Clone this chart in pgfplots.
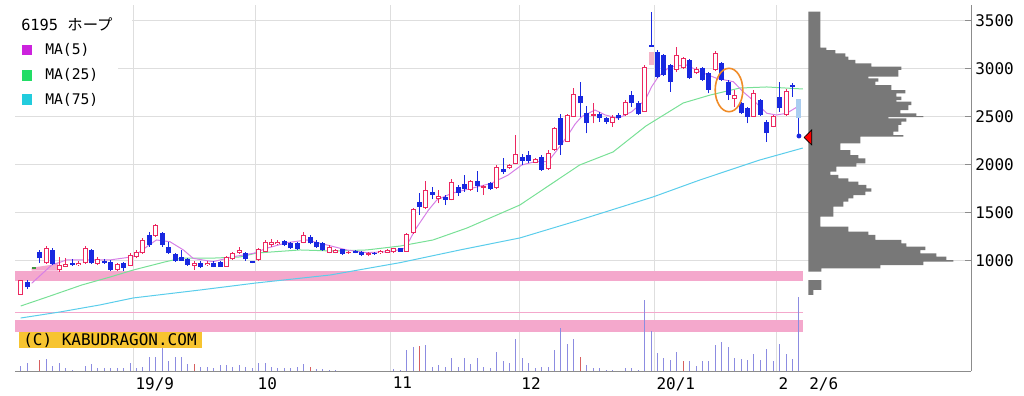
\documentclass[border=0pt]{standalone}
\usepackage{pgfplots}
\pgfplotsset{compat=1.18}
\usepackage{pgfplotstable}
\usepackage{fontspec}
\setmainfont{DejaVu Sans Mono}
\newfontfamily\jp{Noto Sans CJK JP}

\definecolor{cRed}{RGB}{236,40,96}
\definecolor{cBlue}{RGB}{24,40,224}
\definecolor{cGreenC}{RGB}{60,150,60}
\definecolor{cMAf}{RGB}{214,128,230}
\definecolor{cMAtf}{RGB}{120,224,150}
\definecolor{cMAss}{RGB}{90,205,235}
\definecolor{cPink}{RGB}{244,168,204}
\definecolor{cVol}{RGB}{140,140,225}
\definecolor{cVolR}{RGB}{215,95,95}
\definecolor{cProf}{RGB}{120,120,120}
\definecolor{cGrid}{RGB}{222,222,222}
\definecolor{cAxis}{RGB}{140,140,140}
\definecolor{cGold}{RGB}{247,196,48}
\definecolor{cOrange}{RGB}{240,140,40}
\definecolor{cLegM}{RGB}{204,34,221}
\definecolor{cLegG}{RGB}{34,221,102}
\definecolor{cLegC}{RGB}{34,204,221}
\definecolor{cLtPink}{RGB}{245,180,200}
\definecolor{cLtBlue}{RGB}{170,205,240}

% candles: i = trading day index, prices
\pgfplotstableread{
i bot top lo hi inner
0 643 799 643 799 136
4 973 1129 966 1153 136
6 903 955 886 1042 31
7 938 966 935 1028 7
9 952 980 945 997 7
10 973 1136 966 1153 142
12 966 1018 955 1039 31
15 903 966 893 976 42
17 948 1060 945 1080 91
18 1042 1094 1025 1112 31
19 1077 1216 1070 1237 118
21 1258 1372 1247 1382 93
27 948 980 903 997 11
29 955 980 945 997 4
32 938 1042 935 1049 83
33 1015 1077 1008 1091 41
34 1077 1112 1070 1143 14
37 1008 1119 997 1133 90
38 1094 1198 1091 1216 83
39 1164 1198 1146 1226 13
40 1171 1195 1164 1216 3
44 1188 1268 1180 1299 59
48 1083 1146 1077 1164 42
49 1083 1112 1077 1122 8
51 1077 1094 1070 1104 0
54 1060 1077 1044 1091 0
56 1077 1104 1070 1112 6
57 1083 1112 1080 1122 8
58 1088 1129 1080 1137 20
60 1094 1278 1091 1289 163
61 1286 1536 1280 1549 229
63 1546 1737 1539 1834 170
65 1640 1674 1598 1737 13
67 1633 1823 1628 1848 169
70 1737 1831 1730 1841 73
72 1762 1783 1685 1789 0
74 1755 1980 1747 1997 204
76 1963 1997 1955 2008 13
77 2008 2112 2003 2310 83
80 2021 2057 2013 2070 15
82 1952 2119 1945 2153 146
83 2153 2379 2143 2393 205
85 2240 2518 2236 2528 257
86 2500 2737 2497 2796 216
89 2508 2525 2432 2640 0
92 2438 2500 2396 2518 41
94 2518 2657 2508 2674 118
97 2552 3021 2549 3039 448
102 2987 3143 2969 3230 135
103 3004 3109 2997 3122 84
105 2952 2997 2945 3021 24
108 2987 3167 2976 3185 159
111 2681 2726 2604 2778 24
114 2500 2750 2497 2778 229
117 2396 2508 2388 2518 91
119 2518 2771 2508 2784 232
}\redtab

\pgfplotstableread{
i bot top lo hi
1 723 781 705 799
3 1025 1094 980 1112
5 966 1112 955 1133
8 955 980 948 1018
11 973 1112 966 1122
13 973 997 966 1018
14 903 990 893 1008
16 921 973 896 990
20 1164 1268 1146 1302
22 1164 1292 1146 1302
23 1077 1146 1070 1198
24 1000 1070 990 1080
25 1000 1042 997 1112
26 955 1015 945 1028
28 938 980 924 997
30 938 980 930 997
31 938 990 935 997
35 1015 1077 1000 1091
36 978 992 972 997
41 1164 1208 1153 1216
42 1129 1188 1122 1198
43 1119 1188 1112 1195
45 1181 1250 1171 1268
46 1140 1198 1133 1216
47 1112 1181 1104 1190
50 1070 1119 1060 1125
52 1083 1104 1077 1112
53 1060 1094 1049 1101
55 1070 1083 1060 1091
59 1094 1129 1091 1133
62 1563 1615 1476 1702
64 1685 1719 1640 1765
66 1633 1661 1580 1685
68 1709 1771 1674 1789
69 1744 1799 1719 1893
71 1778 1834 1719 1938
73 1744 1813 1737 1820
75 1927 1952 1903 2067
78 2042 2084 1997 2112
79 2042 2101 2021 2146
81 1945 2084 1935 2101
84 2206 2483 2101 2528
87 2640 2716 2500 2865
88 2432 2536 2327 2612
90 2484 2528 2448 2549
91 2448 2484 2424 2500
93 2484 2518 2466 2539
95 2640 2726 2604 2771
96 2528 2646 2518 2664
98 3230 3250 3230 3594
99 2917 3177 2907 3195
100 2935 3143 2924 3153
101 2865 3039 2761 3049
104 2900 3091 2893 3101
106 2883 3004 2872 3018
107 2778 2952 2744 2966
109 2883 3056 2872 3073
110 2726 2865 2674 2883
112 2536 2640 2528 2650
113 2500 2588 2432 2601
115 2518 2674 2508 2684
116 2327 2448 2240 2466
118 2588 2709 2552 2865
120 2807 2831 2709 2848
121 2299 2299 2299 2484
}\bluetab

\pgfplotstableread{
i v
1.71 765
4.82 955
6.37 990
7.15 1008
13.88 1008
17.5 1042
19.6 1146
21.1 1216
23.2 1198
25.3 1112
26.8 1025
29.9 990
33.1 1042
36.2 1077
38.2 1129
41.4 1188
44.5 1216
47.6 1164
50.7 1112
53.8 1084
57.4 1094
59.8 1129
61.3 1320
63.4 1528
64.7 1633
67 1702
70.1 1754
73.2 1807
75.8 1893
77.9 1997
80 2032
82 2032
83 2119
84 2206
85.1 2310
86.2 2424
87.2 2500
89.3 2570
90.9 2518
92.9 2484
95 2552
97.1 2674
98.1 2813
99.1 2914
100.9 3021
103.5 3039
105.6 2969
108.2 2900
110.8 2865
112.3 2761
114.4 2640
116 2536
117.5 2518
119.1 2536
121.2 2622
}\maf

\pgfplotstableread{
i v
0 528
4.6 633
9.5 747
13.9 830
17.5 903
22.4 987
25.1 1028
30.2 1028
34.1 1039
36.7 1080
43.4 1112
48.6 1101
53.8 1112
59 1153
64.1 1216
69.4 1341
77.6 1580
86.9 1997
92.1 2133
97.2 2403
103 2643
107.2 2726
111.8 2799
116 2810
121.6 2789
}\matf

\pgfplotstableread{
i v
0 403
6.1 466
12.3 539
17.5 612
27.9 695
36.6 768
48.1 851
59 980
68.3 1112
77.6 1237
86.9 1424
98.3 1664
105.6 1841
114.9 2049
121.6 2174
}\mass

\pgfplotstableread{
i h
0 5
1 8
4 11.5
5 5
6 8
7 3.3
8 1
10 5
11 7
12 3
13 2.7
14 3.3
15 2.7
16 2.7
17 8
18 3.3
19 4.3
20 14
21 13.5
22 22.7
23 9.5
24 13.5
25 14
26 6.5
28 4.3
29 4.3
30 3.3
31 6
32 6
33 4.3
34 6
35 4.3
36 2.7
37 7.7
38 7.7
39 4.3
40 2.7
41 2.7
42 2.7
43 4.3
44 6.7
46 2
47 2
48 1
49 1
58 1.7
59 1
60 21
61 24
63 26
64 4.3
65 6
66 4.3
67 12.7
68 4.3
69 12.7
70 6.7
71 12.7
72 4.3
73 2.7
74 19.3
75 10
76 7.7
77 32
78 12.7
79 7.7
80 2.7
81 4.3
82 4.3
83 21
84 43.3
85 27
86 32
88 6
89 2.7
90 2.7
91 1
92 1
94 2.7
95 2.7
96 1
97 71
98 40
99 17.7
100 12.5
101 11
102 19.2
104 9.8
105 4.5
106 9.7
107 9.7
108 25.7
109 29
110 24
111 13.3
112 12.3
113 10.7
114 17.3
115 10.7
116 22.3
117 9.7
118 26.7
119 17.3
120 12.3
121 74
}\volb

\pgfplotstableread{
i h
3 11
27 6.5
45 4.3
62 25
87 13.7
103 9.5
}\volr

\begin{document}
\begin{tikzpicture}
\useasboundingbox (-11.25pt,-18.75pt) rectangle (756.75pt,278.25pt);

% ---------------- main price axis ----------------
\begin{axis}[
  at={(0,0)}, anchor=south west, scale only axis,
  width=717pt, height=274.5pt,
  xmin=-0.886, xmax=147.75, ymin=-149, ymax=3664,
  axis x line*=bottom, axis y line*=right,
  axis line style={draw=cAxis, line width=0.75pt},
  xtick={17.5,36.5,57.5,77.5,98.5,117.5},
  xticklabels={19/9,10,11,12,20/1,2},
  ytick={1000,1500,2000,2500,3000,3500},
  yticklabels={1000,1500,2000,2500,3000,3500},
  grid=major, grid style={draw=cGrid, line width=0.75pt},
  tick align=inside, major tick length=4.5pt,
  xtick style={draw=none},
  ytick style={draw=cAxis, line width=0.75pt},
  xticklabel style={anchor=north west, inner sep=0pt, xshift=1.5pt, yshift=-4.5pt, font=\fontsize{12}{14}\selectfont},
  yticklabel style={anchor=west, inner sep=0pt, xshift=3pt, font=\fontsize{12}{14}\selectfont},
]
% pink bands
\addplot[fill=cPink, draw=none] coordinates {(-0.886,792) (121.6,792) (121.6,896) (-0.886,896)};
\addplot[fill=cPink, draw=none] coordinates {(-0.886,452) (121.6,452) (121.6,468) (-0.886,468)};
\addplot[fill=cPink, draw=none] coordinates {(-0.886,254) (121.6,254) (121.6,382) (-0.886,382)};
\addplot[fill=cPink, draw=none] coordinates {(1.71,896) (1.71,927) (4.82,958) (5.8,982) (5.8,896)};
% moving averages
\addplot[cMAss, line width=0.75pt, mark=none] table[x=i,y=v] {\mass};
\addplot[cMAtf, line width=0.75pt, mark=none] table[x=i,y=v] {\matf};
\addplot[cMAf, line width=0.75pt, mark=none] table[x=i,y=v] {\maf};
% light marker boxes
\addplot[draw=none, mark=none, error bars/.cd, y dir=plus, y explicit, error mark=none,
  error bar style={line width=3.75pt, draw=cLtPink}]
  coordinates {(98,3039) +- (0,138)};
\addplot[draw=none, mark=none, error bars/.cd, y dir=plus, y explicit, error mark=none,
  error bar style={line width=3.75pt, draw=cLtBlue}]
  coordinates {(121,2484) +- (0,197)};
% wicks
\addplot[draw=none, mark=none, error bars/.cd, y dir=plus, y explicit, error mark=none,
  error bar style={line width=0.75pt, draw=cRed}]
  table[x=i, y=lo, y error expr=\thisrow{hi}-\thisrow{lo}] {\redtab};
\addplot[draw=none, mark=none, error bars/.cd, y dir=plus, y explicit, error mark=none,
  error bar style={line width=0.75pt, draw=cBlue}]
  table[x=i, y=lo, y error expr=\thisrow{hi}-\thisrow{lo}] {\bluetab};
% bodies
\addplot[draw=none, mark=none, error bars/.cd, y dir=plus, y explicit, error mark=none,
  error bar style={line width=3.75pt, draw=cRed}]
  table[x=i, y=bot, y error expr=\thisrow{top}-\thisrow{bot}] {\redtab};
\addplot[draw=none, mark=none, error bars/.cd, y dir=plus, y explicit, error mark=none,
  error bar style={line width=2.25pt, draw=white}]
  table[x=i, y expr=\thisrow{bot}+10.4, y error=inner] {\redtab};
\addplot[draw=none, mark=none, error bars/.cd, y dir=plus, y explicit, error mark=none,
  error bar style={line width=3.75pt, draw=cBlue}]
  table[x=i, y=bot, y error expr=\thisrow{top}-\thisrow{bot}] {\bluetab};
\addplot[draw=none, mark=none, error bars/.cd, y dir=plus, y explicit, error mark=none,
  error bar style={line width=3pt, draw=cGreenC}]
  coordinates {(2,917) +- (0,20)};
\addplot[only marks, mark=*, mark size=1.6pt, cBlue] coordinates {(121,2299)};
\end{axis}

% ---------------- volume axis ----------------
\begin{axis}[
  at={(0,0)}, anchor=south west, scale only axis,
  width=717pt, height=274.5pt,
  xmin=-0.886, xmax=147.75, ymin=0, ymax=366, hide axis]
\addplot[ycomb, draw=cVol, line width=0.75pt, mark=none] table[x=i,y=h] {\volb};
\addplot[ycomb, draw=cVolR, line width=0.75pt, mark=none] table[x=i,y=h] {\volr};
\end{axis}

% ---------------- price-volume profile ----------------
\begin{axis}[
  at={(0,0)}, anchor=south west, scale only axis,
  width=717pt, height=274.5pt,
  xmin=-793.3, xmax=162.7, ymin=-149, ymax=3664, hide axis, clip=false]
\addplot[fill=cProf, draw=none] coordinates {
(0,3594) (12,3594) (12,3219) (18,3219) (18,3195) (27,3195) (27,3160) (37,3160) (37,3125) (40,3125) (40,3091) (47,3091) (47,3056) (63,3056) (63,3021) (93,3021) (93,2987) (90,2987) (90,2917) (60,2917) (60,2900) (70,2900) (70,2865) (67,2865) (67,2830) (83,2830) (83,2778) (97,2778) (97,2743) (88,2743) (88,2709) (93,2709) (93,2674) (88,2674) (88,2657) (103,2657) (103,2622) (100,2622) (100,2570) (92,2570) (92,2535) (108,2535) (108,2505) (115,2505) (115,2495) (80,2495) (80,2483) (98,2483) (98,2448) (93,2448) (93,2414) (90,2414) (90,2344) (85,2344) (85,2309) (95,2309) (95,2292) (52,2292) (52,2223) (32,2223) (32,2153) (42,2153) (42,2101) (50,2101) (50,2066) (57,2066) (57,2014) (48,2014) (48,1979) (28,1979) (28,1927) (22,1927) (22,1893) (30,1893) (30,1858) (40,1858) (40,1823) (50,1823) (50,1789) (58,1789) (58,1754) (63,1754) (63,1719) (57,1719) (57,1684) (45,1684) (45,1650) (40,1650) (40,1615) (35,1615) (35,1563) (25,1563) (25,1459) (12,1459) (12,1354) (40,1354) (40,1302) (60,1302) (60,1268) (67,1268) (67,1216) (93,1216) (93,1181) (98,1181) (98,1146) (117,1146) (117,1111) (112,1111) (112,1077) (128,1077) (128,1042) (138,1042) (138,1007) (145,1007) (145,990) (115,990) (115,955) (72,955) (72,920) (13,920) (13,886) (0,886)};
\addplot[fill=cProf, draw=none] coordinates {(0,799) (13,799) (13,695) (5,695) (5,643) (0,643)};
\addplot[fill=red, draw=black, line width=0.5pt] coordinates {(-4.3,2284) (3.4,2362) (3.4,2206) (-4.3,2284)};
\end{axis}

% ---------------- annotations (pixel coordinates) ----------------
\begin{scope}[x=0.75pt, y=-0.75pt, shift={(-15,-371)}]
  \fill[white] (15,10) rectangle (132,35);
  \fill[white] (15,40) rectangle (118,110);
  \node[anchor=west, inner sep=0pt, font=\fontsize{11.5}{13}\selectfont] at (21,24) {6195 {\jp ホープ}};
  \fill[cLegM] (22,45) rectangle (32,55);
  \fill[cLegG] (22,70) rectangle (32,81);
  \fill[cLegC] (22,94) rectangle (32,105);
  \node[anchor=west, inner sep=0pt, font=\fontsize{11}{13}\selectfont] at (45,50) {MA(5)};
  \node[anchor=west, inner sep=0pt, font=\fontsize{11}{13}\selectfont] at (45,75) {MA(25)};
  \node[anchor=west, inner sep=0pt, font=\fontsize{11}{13}\selectfont] at (45,99.5) {MA(75)};
  \fill[cGold] (19,332) rectangle (202,348);
  \node[anchor=west, inner sep=0pt, font=\fontsize{12}{14}\selectfont] at (23,340.5) {(C) KABUDRAGON.COM};
  \node[anchor=north west, inner sep=0pt, font=\fontsize{12}{14}\selectfont] at (809,377) {2/6};
  \draw[cOrange, line width=1.2pt] (729,90) ellipse [x radius=13.8, y radius=21.7];
\end{scope}
\end{tikzpicture}
\end{document}
